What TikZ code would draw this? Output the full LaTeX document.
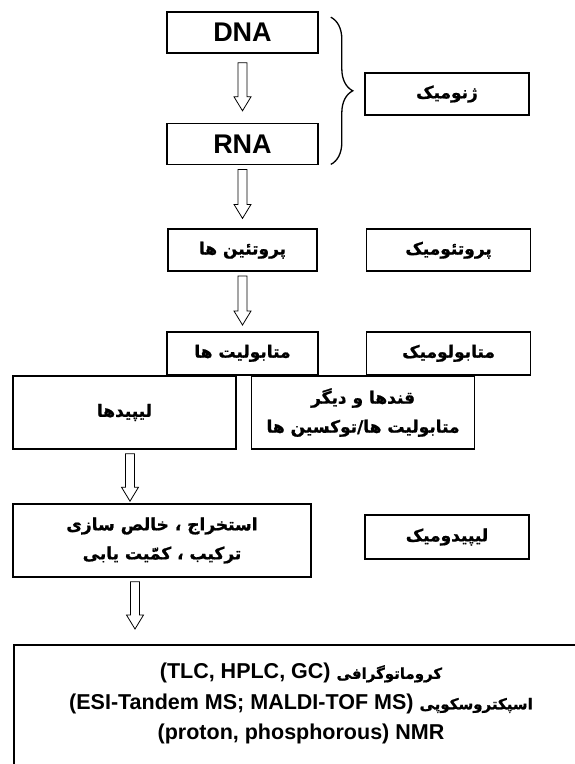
\documentclass[tikz,border=0pt]{standalone}
\usepackage{fontspec}
\setmainfont{Liberation Sans}
\newfontfamily\persianfont[Script=Arabic, BoldFeatures={FakeBold=1}]{DejaVu Sans}
\TeXXeTstate=1
\newcommand{\fa}[1]{{\persianfont\beginR #1\endR}}
\newcommand{\fasmall}[1]{{\persianfont\fontsize{15}{30}\selectfont\beginR #1\endR}}
\usetikzlibrary{positioning,calc,decorations.pathreplacing}

\begin{document}
\begin{tikzpicture}[
  x=1pt, y=-1pt,
  box/.style={draw, line width=1.6pt, align=center, inner sep=0pt,
    font=\fontsize{17}{29}\selectfont\bfseries},
  gene/.style={box, minimum width=151pt, minimum height=41pt,
    font=\fontsize{27}{30}\selectfont\bfseries},
  omic/.style={box, minimum width=164pt, minimum height=42pt},
  hollow/.style={line width=0.8pt, to path={
    let \p1=(\tikztostart), \p2=(\tikztotarget) in
    (\x1-4.5pt,\y1-4pt) -- (\x1-4.5pt,\y2+20pt) -- (\x1-8.5pt,\y2+20pt)
    -- (\x1,\y2+6pt) -- (\x1+8.5pt,\y2+20pt) -- (\x1+4.5pt,\y2+20pt)
    -- (\x1+4.5pt,\y1-4pt) -- cycle}}
]
\useasboundingbox (0,0) rectangle (574,764);

% Genes
\node[gene] (dna) at (242.5,32.5) {DNA};
\node[gene, below=69pt of dna] (rna) {RNA};
\node[omic] (genome) at (447,94) {\fa{ژنومیک}};

% Proteins and metabolites
\node[box, minimum width=149pt, minimum height=42pt, below=63pt of rna] (protein) {\fa{پروتئین ها}};
\node[omic, right=48pt of protein] (proteome) {\fa{پروتئومیک}};
\node[box, minimum width=151pt, minimum height=43pt, below=59pt of protein] (metab) {\fa{متابولیت ها}};
\node[omic, minimum height=43pt, right=47pt of metab] (metabolome) {\fa{متابولومیک}};

% Split of metabolites
\node[box, minimum width=223pt, minimum height=73pt] (lipid) at (124.5,412.5) {\fa{لیپیدها}};
\node[box, minimum width=223pt, minimum height=73pt, right=14pt of lipid] (sugar)
  {\fa{قندها و دیگر}\\\fa{متابولیت ها/توکسین ها}};

% Lipid work
\node[box, minimum width=298pt, minimum height=73pt] (extract) at (162,540.5)
  {\fa{استخراج ، خالص سازی}\\\fa{ترکیب ، کمّیت یابی}};
\node[omic, minimum height=44pt] (lipidome) at (447,537) {\fa{لیپیدومیک}};

% Methods (box runs off the page)
\node[box, anchor=north, minimum width=574pt, text height=95pt, text depth=60pt,
  font=\fontsize{21.5}{30.5}\selectfont\bfseries] (final) at (301,644)
  {(TLC, HPLC, GC) \fasmall{کروماتوگرافی}\\
   (ESI-Tandem MS; MALDI-TOF MS) \fasmall{اسپکتروسکوپی}\\
   (proton, phosphorous) NMR};

% Arrows
\draw[hollow] ([yshift=-5pt]dna.south) to ([yshift=6pt]rna.north);
\draw[hollow] (rna.south) to ([yshift=4pt]protein.north);
\draw[hollow] (protein.south) to (metab.north);
\draw[hollow] ([xshift=5.5pt]lipid.south) to ([yshift=-4pt]extract.north);
\draw[hollow] ([xshift=-27pt]extract.south) to ([yshift=9pt]final.north);

% Brace
\draw[line width=1.3pt, decorate, decoration={brace, amplitude=22pt}]
  ($(dna.north east)+(12,6)$) -- ($(rna.south east)+(12,-1)$);

\end{tikzpicture}
\end{document}
